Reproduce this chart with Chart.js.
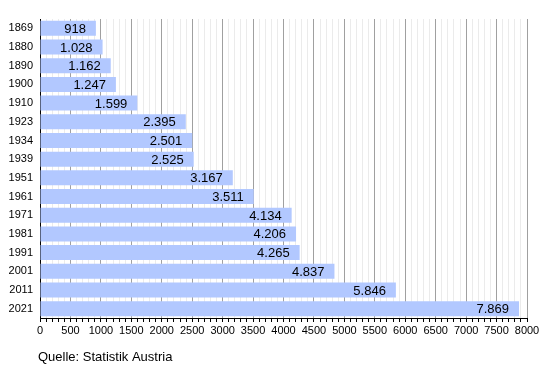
<!DOCTYPE html>
<html>
<head>
<meta charset="utf-8">
<script src="https://cdn.jsdelivr.net/npm/chart.js@4/dist/chart.umd.min.js"></script>
<style>
  html, body { margin: 0; padding: 0; background: #fff; }
  #wrap { width: 550px; height: 365px; }
</style>
</head>
<body>
<div id="wrap"><canvas id="chart" width="550" height="365"></canvas></div>
<script>
// Einwohner je Volkszählungsjahr
const years = ['1869', '1880', '1890', '1900', '1910', '1923', '1934', '1939',
               '1951', '1961', '1971', '1981', '1991', '2001', '2011', '2021'];
const population = [918, 1028, 1162, 1247, 1599, 2395, 2501, 2525,
                    3167, 3511, 4134, 4206, 4265, 4837, 5846, 7869];
const sourceText = 'Quelle: Statistik Austria';

// 1234 -> "1.234"
function fmt(v) {
    return String(v).replace(/\B(?=(\d{3})+(?!\d))/g, '.');
}

const FONT = '"Liberation Sans", Arial, sans-serif';

// value labels inside the bars and the source line under the axis
const labelPlugin = {
    id: 'barLabels',
    afterDatasetsDraw(chart) {
        const ctx = chart.ctx;
        const meta = chart.getDatasetMeta(0);
        ctx.save();
        ctx.font = '13px ' + FONT;
        ctx.fillStyle = '#000';
        ctx.textAlign = 'right';
        ctx.textBaseline = 'middle';
        meta.data.forEach((bar, i) => {
            ctx.fillText(fmt(population[i]), bar.x - 10, bar.y + 1);
        });
        ctx.font = '13px ' + FONT;
        ctx.textAlign = 'left';
        ctx.textBaseline = 'alphabetic';
        ctx.fillText(sourceText, 38, 361);
        ctx.restore();
    }
};

new Chart(document.getElementById('chart'), {
    type: 'bar',
    data: {
        labels: years,
        datasets: [{
            data: population,
            backgroundColor: 'rgb(178, 200, 255)',
            borderWidth: 0,
            barPercentage: 0.8,
            categoryPercentage: 1.0,
        }]
    },
    options: {
        indexAxis: 'y',
        responsive: false,
        animation: false,
        layout: { padding: { left: 0, right: 23, top: 19, bottom: 0 } },
        plugins: {
            legend: { display: false },
            tooltip: { enabled: false },
        },
        scales: {
            x: {
                min: 0,
                max: 8000,
                afterFit: (scale) => { scale.height = 47; },
                ticks: {
                    stepSize: 100,
                    autoSkip: false,
                    maxRotation: 0,
                    padding: 2,
                    color: '#000',
                    font: { family: FONT, size: 11 },
                    callback: (v) => (v % 500 === 0 ? String(v) : ''),
                },
                grid: {
                    color: (c) => (c.tick && c.tick.value % 500 === 0 ? '#a0a0a0' : '#ebebeb'),
                    tickColor: '#000',
                    tickLength: 4,
                    lineWidth: 1,
                },
                border: { display: true, color: '#000', width: 1 },
            },
            y: {
                afterFit: (scale) => { scale.width = 40; },
                ticks: {
                    padding: 7,
                    color: '#000',
                    font: { family: FONT, size: 11 },
                },
                grid: { display: false, drawTicks: false },
                border: { display: true, color: '#000', width: 1 },
            }
        }
    },
    plugins: [labelPlugin]
});
</script>
</body>
</html>
